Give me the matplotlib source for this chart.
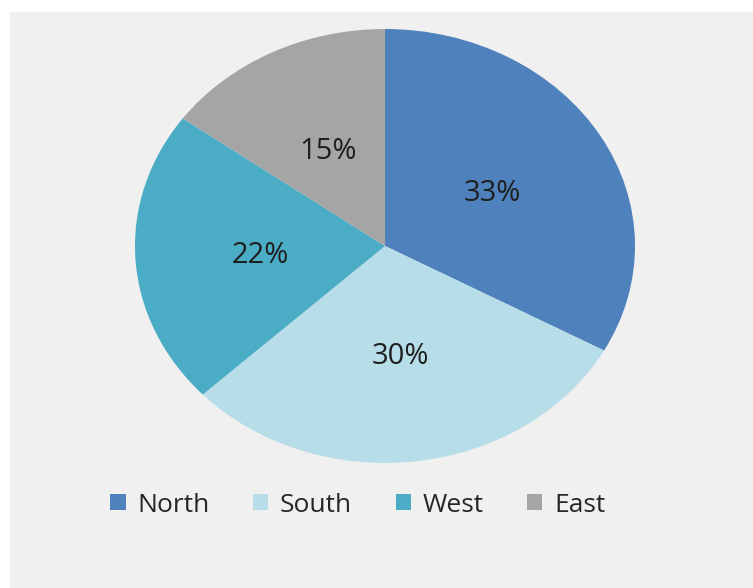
import matplotlib
matplotlib.use("Agg")
import matplotlib.pyplot as plt
from matplotlib.patches import Rectangle

plt.rcParams['font.family'] = ['Open Sans', 'DejaVu Sans']

# Sales share by region
regions = ['North', 'South', 'West', 'East']
shares = [33, 30, 22, 15]
colors = ['#4f81bd', '#b7dee8', '#4bacc6', '#a5a5a5']

W, H = 753, 588
fig = plt.figure(figsize=(W / 100, H / 100), dpi=100, facecolor='white')

# light grey chart area with a thin white margin at top and left
fig.patches.append(Rectangle((10 / W, 0), 1 - 10 / W, 1 - 12 / H,
                             transform=fig.transFigure, facecolor='#f0f0f0',
                             edgecolor='none', zorder=-5))

# the pie is drawn slightly wider than tall
cx, cy, rx, ry = 385, 246, 250, 217
ax = fig.add_axes([(cx - rx) / W, 1 - (cy + ry) / H, 2 * rx / W, 2 * ry / H])
wedges, texts, autotexts = ax.pie(
    shares, colors=colors, startangle=90, counterclock=False,
    autopct='%d%%', pctdistance=0.5, radius=1,
    wedgeprops=dict(linewidth=0),
    textprops=dict(fontsize=21, color='#1f1f1f'))
for t in autotexts:
    x, y = t.get_position()
    t.set_position((x, y - 0.012))
ax.set_aspect('auto')
ax.set_xlim(-1, 1)
ax.set_ylim(-1, 1)
ax.axis('off')

leg = fig.legend(wedges, regions, loc='center', ncol=4,
                 bbox_to_anchor=(358 / W, 1 - 505 / H),
                 frameon=False, fontsize=19, labelcolor='#262626',
                 handlelength=0.57, handleheight=0.57, handletextpad=0.45,
                 columnspacing=1.65)

fig.savefig('out.png', dpi=100, facecolor=fig.get_facecolor())
